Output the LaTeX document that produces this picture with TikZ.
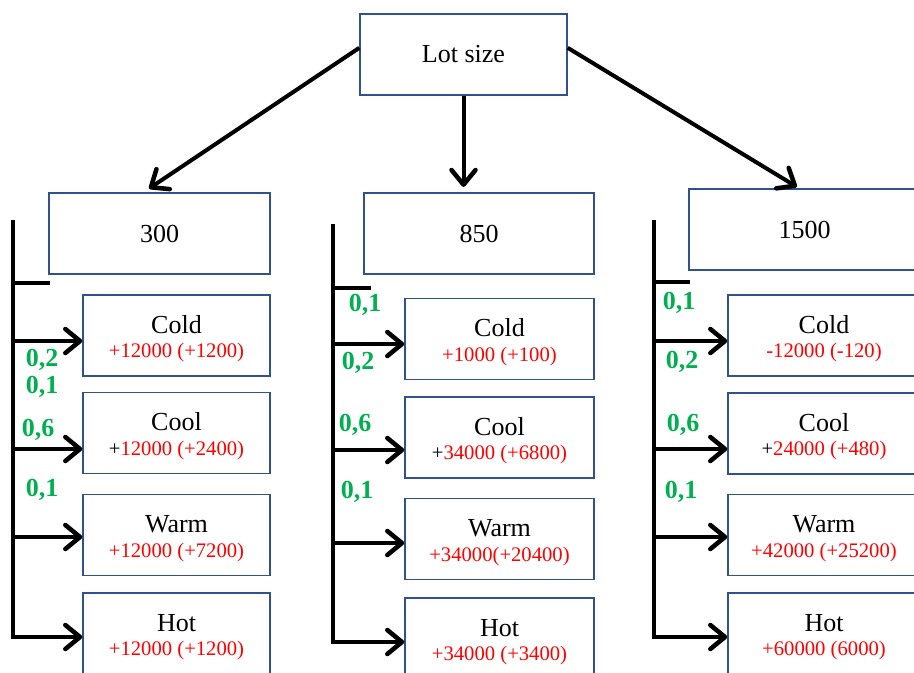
\documentclass[tikz,border=0pt]{standalone}
\usepackage{fontspec}
\setmainfont{Liberation Serif}
\usepackage{xcolor}
\usetikzlibrary{arrows.meta}
\definecolor{boxblue}{RGB}{47,82,143}
\definecolor{probgreen}{RGB}{0,176,80}
\newcommand{\val}[1]{{\fontsize{15.5}{18}\selectfont\color{red}#1}}
\newcommand{\weather}[2]{\rule{0pt}{18.5pt}#1\\\val{#2}}

\begin{document}
\begin{tikzpicture}[x=0.75pt,y=-0.75pt,
  box/.style={draw=boxblue, line width=1.1pt, inner sep=0pt, minimum height=60.75pt,
    align=center, font=\fontsize{19.5}{18.5}\selectfont},
  arr/.style={line width=3pt, -{Straight Barb[length=11pt,width=18pt,line width=3.4pt,round]}},
  trunk/.style={line width=3pt, line cap=rect},
  prob/.style={text=probgreen, font=\fontsize{19.5}{19.5}\selectfont\bfseries, inner sep=0pt}]
  \useasboundingbox (0,0) rectangle (914,672);

  % decision
  \node (lot) at (463.5,54.5) [box, minimum width=155.25pt] {Lot size};
  \node (s300) at (159.5,233.5) [box, minimum width=165.75pt] {300};
  \node (s850) at (479,233.5) [box, minimum width=172.5pt] {850};
  \node (s1500) at (804.5,229.5) [box, minimum width=173.25pt] {1500};
  \draw[arr, shorten >=5pt] ([yshift=5pt]lot.west) -- ([xshift=-12pt]s300.north);
  \draw[arr, shorten >=4pt] (lot.south) -- (lot.south |- s850.north);
  \draw[arr, shorten >=2pt] ([yshift=5pt]lot.east) -- ([xshift=-4pt]s1500.north);

  % lot size 300
  \node (aCold) at (176.5,335.5) [box, minimum width=140.25pt] {\weather{Cold}{+12000 (+1200)}};
  \node (aCool) at (176.5,433) [box, minimum width=140.25pt] {\weather{Cool}{\textcolor{black}{+}12000 (+2400)}};
  \node (aWarm) at (176.5,535) [box, minimum width=140.25pt] {\weather{Warm}{+12000 (+7200)}};
  \node (aHot) at (176.5,633.5) [box, minimum width=140.25pt] {\weather{Hot}{+12000 (+1200)}};
  \coordinate (aTop) at (13,222);
  \coordinate (aTick) at (13,283);
  \coordinate (a1) at (13,341);
  \coordinate (a2) at (13,449);
  \coordinate (a3) at (13,537);
  \coordinate (a4) at (13,637);
  \draw[trunk] (aTop) -- (a4);
  \draw[trunk] (aTick) -- (aTick -| s300.west);
  \draw[arr] (a1) -- (a1 -| aCold.west);
  \draw[arr] (a2) -- (a2 -| aCool.west);
  \draw[arr] (a3) -- (a3 -| aWarm.west);
  \draw[arr] (a4) -- (a4 -| aHot.west);
  \node (pa1) at (42,360) [prob] {0,2};
  \node (pa2) at (42,387) [prob] {0,1};
  \node (pa3) at (38,430) [prob] {0,6};
  \node (pa4) at (42,490) [prob] {0,1};

  % lot size 850
  \node (bCold) at (499.5,339) [box, minimum width=141.75pt] {\weather{Cold}{+1000 (+100)}};
  \node (bCool) at (499.5,437.5) [box, minimum width=141.75pt] {\weather{Cool}{\textcolor{black}{+}34000 (+6800)}};
  \node (bWarm) at (499.5,539) [box, minimum width=141.75pt] {\weather{Warm}{+34000(+20400)}};
  \node (bHot) at (499.5,638.5) [box, minimum width=141.75pt] {\weather{Hot}{+34000 (+3400)}};
  \coordinate (bTop) at (333,226);
  \coordinate (bTick) at (333,288);
  \coordinate (b1) at (333,344);
  \coordinate (b2) at (333,450);
  \coordinate (b3) at (333,543);
  \coordinate (b4) at (333,642);
  \draw[trunk] (bTop) -- (b4);
  \draw[trunk] (bTick) -- ++(36,0);
  \draw[arr] (b1) -- (b1 -| bCold.west);
  \draw[arr] (b2) -- (b2 -| bCool.west);
  \draw[arr] (b3) -- (b3 -| bWarm.west);
  \draw[arr] (b4) -- (b4 -| bHot.west);
  \node (pb1) at (365,305) [prob] {0,1};
  \node (pb2) at (358,363) [prob] {0,2};
  \node (pb3) at (355,425) [prob] {0,6};
  \node (pb4) at (357,492) [prob] {0,1};

  % lot size 1500
  \node (cCold) at (824,335.5) [box, minimum width=144pt] {\weather{Cold}{-12000 (-120)}};
  \node (cCool) at (824,433.5) [box, minimum width=144pt] {\weather{Cool}{\textcolor{black}{+}24000 (+480)}};
  \node (cWarm) at (824,535) [box, minimum width=144pt] {\weather{Warm}{+42000 (+25200)}};
  \node (cHot) at (824,633.5) [box, minimum width=144pt] {\weather{Hot}{+60000 (6000)}};
  \coordinate (cTop) at (654,222);
  \coordinate (cTick) at (654,282);
  \coordinate (c1) at (654,341);
  \coordinate (c2) at (654,449);
  \coordinate (c3) at (654,537);
  \coordinate (c4) at (654,637);
  \draw[trunk] (cTop) -- (c4);
  \draw[trunk] (cTick) -- (cTick -| s1500.west);
  \draw[arr] (c1) -- (c1 -| cCold.west);
  \draw[arr] (c2) -- (c2 -| cCool.west);
  \draw[arr] (c3) -- (c3 -| cWarm.west);
  \draw[arr] (c4) -- (c4 -| cHot.west);
  \node (pc1) at (679,303) [prob] {0,1};
  \node (pc2) at (682,362) [prob] {0,2};
  \node (pc3) at (683,425) [prob] {0,6};
  \node (pc4) at (681,492) [prob] {0,1};
\end{tikzpicture}
\end{document}
